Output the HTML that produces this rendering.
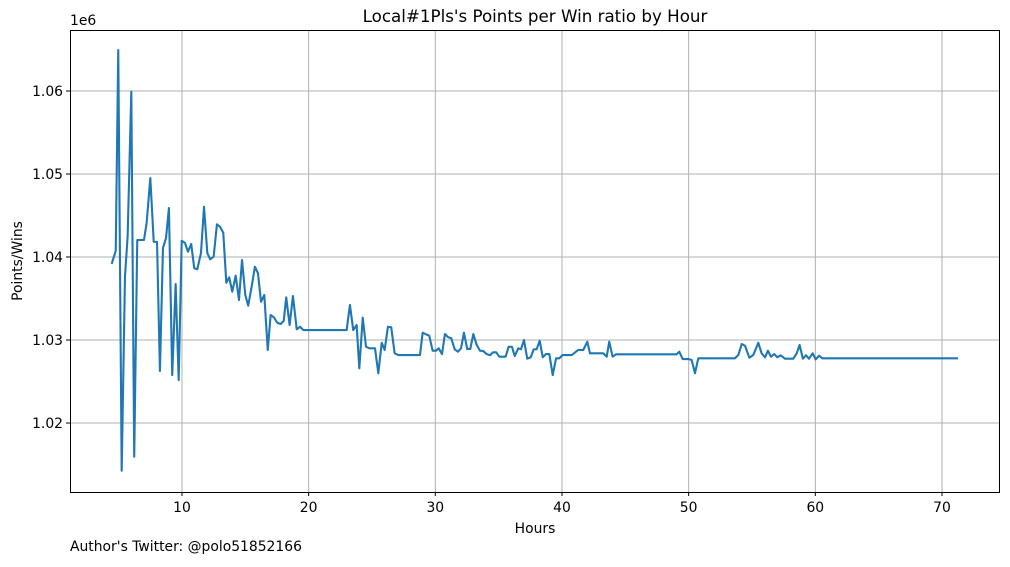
<!DOCTYPE html>
<html><head><meta charset="utf-8"><style>
body{margin:0;background:#fff;font-family:"Liberation Sans","DejaVu Sans",sans-serif;}
svg text{font-family:"DejaVu Sans","Liberation Sans",sans-serif;font-size:13.9px;fill:#000;}
</style></head><body>
<svg id="chart" width="1010" height="562" xmlns="http://www.w3.org/2000/svg">
<rect width="1010" height="562" fill="#fff"/>
<g id="grid"></g>
<g id="series"></g>
<rect x="70.5" y="30.5" width="929" height="462" fill="none" stroke="#000" stroke-width="1"/>
<g id="ticks"></g>
<text x="535" y="22" text-anchor="middle" style="font-size:16.7px">Local#1Pls's Points per Win ratio by Hour</text>
<text x="70" y="25">1e6</text>
<text x="535" y="533" text-anchor="middle">Hours</text>
<text transform="translate(22,261) rotate(-90)" text-anchor="middle">Points/Wins</text>
<text x="70" y="551">Author's Twitter: @polo51852166</text>
</svg>
<script>
const hours=[4.45,4.77,4.97,5.24,5.50,5.71,6.00,6.23,6.47,7.00,7.21,7.50,7.77,8.03,8.26,8.50,8.74,8.97,9.23,9.50,9.74,9.98,10.24,10.47,10.73,10.97,11.21,11.50,11.74,12.00,12.23,12.50,12.76,13.00,13.26,13.50,13.73,13.97,14.24,14.50,14.74,15.00,15.23,15.50,15.76,16.00,16.24,16.50,16.77,17.00,17.26,17.52,17.79,18.03,18.23,18.50,18.76,19.06,19.32,19.58,23.00,23.26,23.52,23.79,24.00,24.27,24.53,24.79,25.24,25.50,25.77,26.00,26.26,26.52,26.79,27.08,28.79,29.00,29.26,29.52,29.79,30.05,30.27,30.53,30.76,31.02,31.26,31.53,31.79,32.03,32.26,32.52,32.76,33.00,33.27,33.53,33.79,34.05,34.32,34.55,34.81,35.05,35.55,35.79,36.05,36.27,36.55,36.76,37.00,37.26,37.53,37.77,38.00,38.24,38.48,38.74,39.00,39.27,39.53,39.79,40.05,40.77,41.28,41.68,42.00,42.21,43.26,43.53,43.73,44.00,44.26,49.05,49.26,49.53,49.97,50.24,50.50,50.76,53.66,53.92,54.19,54.45,54.79,55.10,55.50,55.76,56.03,56.26,56.50,56.76,57.00,57.26,57.60,58.26,58.53,58.76,59.02,59.26,59.50,59.79,60.03,60.29,60.55,71.26];
const ratios=[1039.16,1040.76,1064.94,1014.25,1037.63,1042.45,1059.92,1015.94,1042.05,1042.05,1044.10,1049.52,1041.84,1041.81,1026.27,1041.08,1042.29,1045.90,1025.78,1036.75,1025.18,1041.96,1041.69,1040.64,1041.57,1038.64,1038.52,1040.48,1046.06,1040.48,1039.72,1040.04,1043.94,1043.65,1042.93,1036.90,1037.55,1035.82,1037.75,1034.82,1039.64,1035.42,1034.13,1036.42,1038.83,1038.04,1034.61,1035.42,1028.80,1033.01,1032.73,1032.08,1031.93,1032.29,1035.14,1031.81,1035.30,1031.29,1031.60,1031.20,1031.20,1034.22,1031.20,1031.81,1026.59,1032.69,1029.19,1029.00,1029.00,1025.99,1029.67,1028.80,1031.60,1031.53,1028.40,1028.19,1028.19,1030.88,1030.69,1030.52,1028.71,1028.71,1029.00,1028.31,1030.72,1030.33,1030.21,1028.88,1028.59,1029.00,1030.88,1028.92,1028.92,1030.72,1029.40,1028.71,1028.67,1028.31,1028.16,1028.52,1028.52,1027.99,1027.99,1029.19,1029.19,1028.07,1029.00,1028.88,1030.00,1027.75,1027.92,1028.88,1028.88,1029.92,1027.92,1028.31,1028.31,1025.78,1027.80,1027.80,1028.19,1028.19,1028.80,1028.80,1029.80,1028.40,1028.40,1027.99,1029.80,1027.99,1028.28,1028.28,1028.59,1027.71,1027.71,1027.59,1025.99,1027.80,1027.80,1028.19,1029.52,1029.31,1027.87,1028.19,1029.67,1028.40,1027.92,1028.71,1027.99,1028.31,1027.92,1028.16,1027.75,1027.75,1028.40,1029.40,1027.75,1028.16,1027.75,1028.40,1027.67,1028.11,1027.80,1027.80];
const xTicks=[10,20,30,40,50,60,70];
const yTicks=[1020,1030,1040,1050,1060];
const yTickLabels=["1.02","1.03","1.04","1.05","1.06"];

const X0=70,X1=1000,Y0=492,Y1=30;
const xMin=1.16,xMax=74.58,yMin=1011.69,yMax=1067.35;
function sx(h){return X0+(h-xMin)/(xMax-xMin)*(X1-X0);}
function sy(v){return Y0-(v-yMin)/(yMax-yMin)*(Y0-Y1);}
const NS="http://www.w3.org/2000/svg";
const grid=document.getElementById('grid'),ticks=document.getElementById('ticks'),series=document.getElementById('series');
function mk(tag,attrs,parent){const e=document.createElementNS(NS,tag);for(const k in attrs)e.setAttribute(k,attrs[k]);parent.appendChild(e);return e;}
xTicks.forEach(t=>{
  const x=sx(t);
  const g=mk('line',{x1:x,x2:x,y1:Y1,y2:Y0,stroke:'#b0b0b0','stroke-width':1},grid);
  
  
  const tk=mk('line',{x1:x,x2:x,y1:Y0,y2:Y0+4,stroke:'#000'},ticks);
  
  
  const tx=mk('text',{x:x,y:Y0+20,'text-anchor':'middle'},ticks);
  tx.textContent=t;
  
  
});
yTicks.forEach((t,i)=>{
  const y=sy(t);
  const g=mk('line',{x1:X0,x2:X1,y1:y,y2:y,stroke:'#b0b0b0','stroke-width':1},grid);
  
  
  const tk=mk('line',{x1:X0-4,x2:X0,y1:y,y2:y,stroke:'#000'},ticks);
  
  
  const tx=mk('text',{x:X0-7,y:y+5,'text-anchor':'end'},ticks);
  tx.textContent=yTickLabels[i];
  
  
});
const pts=hours.map((h,i)=>sx(h).toFixed(2)+','+sy(ratios[i]).toFixed(2)).join(' ');
const line=mk('polyline',{points:pts,fill:'none',stroke:'#1f77b4','stroke-width':2.1,'stroke-linejoin':'round'},series);


</script>
</body></html>
